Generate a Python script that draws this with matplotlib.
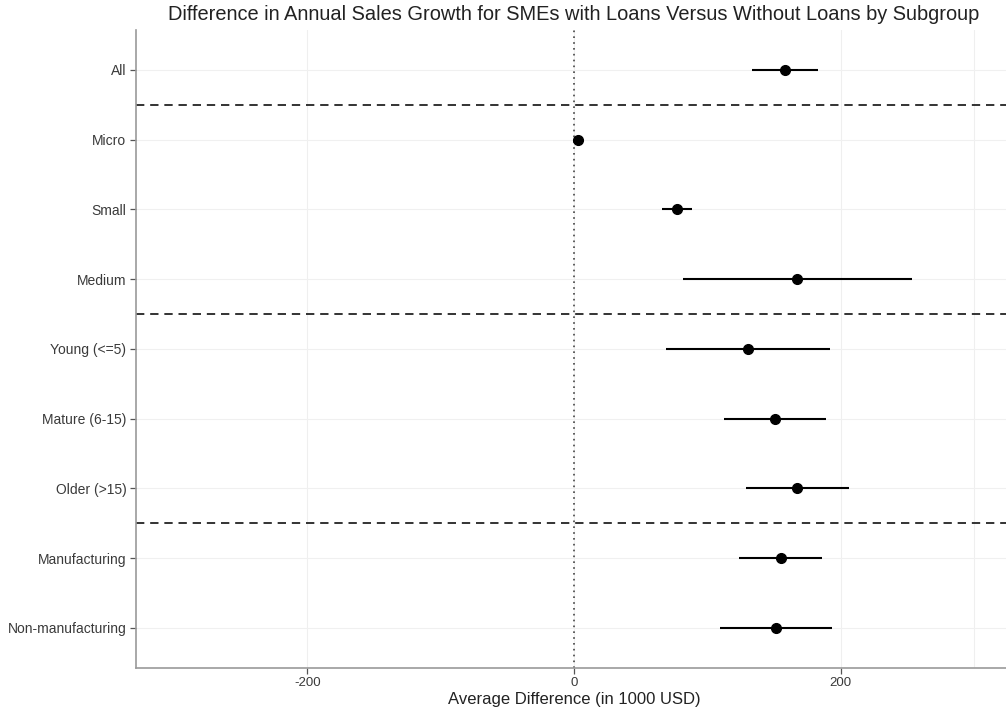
import numpy as np
import matplotlib
matplotlib.use('Agg')
import matplotlib.pyplot as plt

plt.rcParams['font.family'] = ['Liberation Sans', 'DejaVu Sans']

# subgroup estimates (1000 USD)
groups = ['All', 'Micro', 'Small', 'Medium', 'Young (<=5)', 'Mature (6-15)',
          'Older (>15)', 'Manufacturing', 'Non-manufacturing']
est = [158.5, 2.8, 77.2, 167.4, 130.5, 151.0, 167.4, 155.0, 151.7]
lo = [133.5, 1.5, 66.2, 81.5, 69.0, 112.5, 128.7, 123.7, 109.4]
hi = [183.2, 4.0, 88.2, 253.2, 191.9, 188.8, 206.2, 186.1, 193.7]
# separators between blocks (after these row indices)
breaks = [0.5, 3.5, 6.5]

W, H = 1006, 710
fig = plt.figure(figsize=(W / 100, H / 100), dpi=100)
ax = fig.add_axes([136 / W, (H - 667.7) / H, (1012 - 136) / W, (667.7 - 30) / H])

y = np.arange(len(groups))
ax.set_ylim(len(groups) - 1 + 0.57, -0.57)
ax.set_xlim(-328.5, 328.5)

# grid
for gx in [-200, 0, 200, 300]:
    ax.axvline(gx, color='#efefef', lw=0.8, zorder=0)
for gy in y:
    ax.axhline(gy, color='#f0f0f0', lw=0.8, zorder=0)

ax.axvline(0, color='#444444', lw=1.2, ls=(0, (1, 2.5)), zorder=1)
for b in breaks:
    ax.axhline(b, color='#111111', lw=1.2, ls=(0, (5, 3.5)), zorder=1)

ax.hlines(y, lo, hi, color='black', lw=1.5, zorder=2)
ax.plot(est, y, 'o', color='black', ms=7, zorder=3)

ax.set_yticks(y)
ax.set_yticklabels(groups, fontsize=10, color='#3a3a3a')
ax.set_xticks([-200, 0, 200])
ax.set_xticklabels(['-200', '0', '200'], fontsize=9.5, color='#3a3a3a')
ax.tick_params(axis='both', length=4, width=0.9, color='#555555', pad=3)

for s in ['top', 'right']:
    ax.spines[s].set_visible(False)
for s in ['left', 'bottom']:
    ax.spines[s].set_color('#9a9a9a')
    ax.spines[s].set_linewidth(1.2)

ax.set_xlabel('Average Difference (in 1000 USD)', fontsize=12, color='#222222', labelpad=2)
ax.set_title('Difference in Annual Sales Growth for SMEs with Loans Versus Without Loans by Subgroup',
             fontsize=14.4, color='#222222', pad=7)

fig.savefig('out.png', dpi=100)
